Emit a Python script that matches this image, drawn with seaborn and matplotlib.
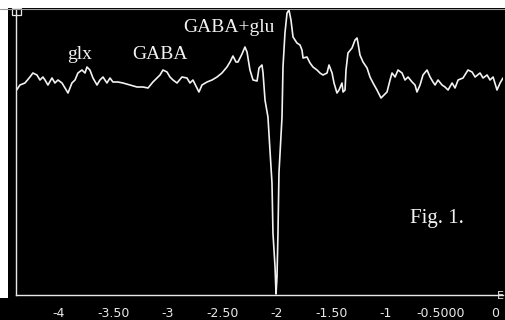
import numpy as np
import pandas as pd
import matplotlib
matplotlib.use("Agg")
import matplotlib.pyplot as plt
from matplotlib.patches import Rectangle
import seaborn as sns

# chemical shift (ppm) and signal intensity (a.u.)
ppm = [
    -4.388, -4.358, -4.312, -4.266, -4.239, -4.202, -4.174, -4.147, -4.128, -4.101,
    -4.064, -4.037, -4.009, -3.972, -3.945, -3.917, -3.881, -3.853, -3.826, -3.789,
    -3.761, -3.743, -3.716, -3.688, -3.651, -3.624, -3.596, -3.560, -3.532, -3.505,
    -3.459, -3.413, -3.349, -3.284, -3.229, -3.183, -3.138, -3.101, -3.073, -3.046,
    -3.009, -2.982, -2.954, -2.917, -2.872, -2.826, -2.798, -2.771, -2.734, -2.716,
    -2.688, -2.642, -2.596, -2.550, -2.505, -2.459, -2.431, -2.404, -2.376, -2.358,
    -2.321, -2.294, -2.275, -2.266, -2.248, -2.220, -2.183, -2.165, -2.138, -2.128,
    -2.110, -2.083, -2.064, -2.046, -2.037, -2.018, -2.009, -2.000, -1.991, -1.982,
    -1.954, -1.945, -1.927, -1.908, -1.890, -1.872, -1.853, -1.817, -1.789, -1.771,
    -1.761, -1.725, -1.697, -1.670, -1.633, -1.606, -1.578, -1.541, -1.523, -1.495,
    -1.477, -1.450, -1.431, -1.404, -1.394, -1.376, -1.367, -1.349, -1.312, -1.284,
    -1.266, -1.257, -1.239, -1.211, -1.174, -1.147, -1.119, -1.083, -1.046, -1.018,
    -0.991, -0.963, -0.945, -0.917, -0.890, -0.853, -0.826, -0.798, -0.761, -0.734,
    -0.716, -0.688, -0.661, -0.624, -0.596, -0.569, -0.550, -0.523, -0.486, -0.459,
    -0.431, -0.394, -0.367, -0.339, -0.294, -0.248, -0.211, -0.183, -0.138, -0.110,
    -0.073, -0.046, -0.018, 0.018, 0.046, 0.073,
]
intensity = [
    205, 210, 212, 218, 222, 220, 215, 218, 215, 210,
    217, 212, 215, 212, 207, 202, 212, 215, 222, 225,
    222, 228, 225, 217, 210, 215, 218, 212, 217, 213,
    213, 212, 210, 208, 208, 207, 213, 217, 220, 225,
    223, 218, 215, 212, 218, 217, 212, 215, 207, 203,
    210, 213, 215, 218, 222, 228, 233, 239, 233, 233,
    241, 248, 243, 237, 225, 215, 214, 227, 230, 222,
    195, 178, 145, 112, 62, 28, 1, 18, 62, 122,
    178, 228, 262, 282, 285, 275, 258, 252, 250, 245,
    237, 238, 232, 228, 225, 222, 220, 222, 230, 222,
    212, 202, 205, 212, 203, 205, 225, 242, 247, 255,
    257, 252, 240, 233, 227, 218, 212, 205, 197, 200,
    203, 215, 222, 218, 225, 222, 215, 218, 213, 210,
    203, 210, 220, 225, 218, 213, 210, 215, 210, 208,
    205, 212, 207, 215, 217, 225, 223, 218, 222, 217,
    220, 215, 218, 205, 212, 217,
]
assert len(ppm) == len(intensity)

tick_pos = [-4, -3.5, -3, -2.5, -2, -1.5, -1, -0.5, 0]
tick_labels = ["-4", "-3.50", "-3", "-2.50", "-2", "-1.50", "-1", "-0.5000", "0"]

# peak labels: text, ppm of left edge, baseline intensity
peak_labels = [("glx", -3.927, 236), ("GABA", -3.33, 236), ("GABA+glu", -2.862, 263)]

df = pd.DataFrame({"ppm": ppm, "intensity": intensity})

sns.set_style("dark")
plt.rcParams["font.family"] = ["DejaVu Sans"]

W, H = 505, 320
fig = plt.figure(figsize=(W / 100, H / 100), dpi=100, facecolor="black")

# white margins of the original screenshot
fig.patches.append(Rectangle((0, 1 - 8 / H), 1, 8 / H, transform=fig.transFigure,
                             facecolor="white", edgecolor="none", zorder=0))
fig.patches.append(Rectangle((0, 22 / H), 8 / W, 1 - 22 / H, transform=fig.transFigure,
                             facecolor="white", edgecolor="none", zorder=0))
fig.lines.append(plt.Line2D([0, 1], [1 - 8.5 / H, 1 - 8.5 / H], transform=fig.transFigure,
                            color="#9a9a9a", lw=0.8))

ax = fig.add_axes([16 / W, 25 / H, 487 / W, 287 / H])
ax.set_facecolor("black")

sns.lineplot(data=df, x="ppm", y="intensity", ax=ax, color="#f2f2f2", linewidth=1.2)

ax.set_xlim(-4.394, 0.073)
ax.set_ylim(0, 287)
ax.set_xlabel("")
ax.set_ylabel("")
ax.grid(False)

for side in ["top", "right"]:
    ax.spines[side].set_visible(False)
for side in ["left", "bottom"]:
    ax.spines[side].set_visible(True)
    ax.spines[side].set_color("#e8e8e8")
    ax.spines[side].set_linewidth(1.0)

ax.set_xticks(tick_pos)
ax.set_xticklabels(tick_labels)
ax.set_yticks(np.arange(287, 0, -35))
ax.set_yticklabels([])
ax.tick_params(axis="x", direction="out", length=6, width=1.0, color="#e8e8e8",
               labelcolor="#e8e8e8", labelsize=9, pad=2.5)
ax.tick_params(axis="y", direction="out", length=6, width=1.0, color="#e8e8e8")

for text, x, y in peak_labels:
    ax.text(x, y, text, color="#f2f2f2", fontsize=14, family="Liberation Serif",
            ha="left", va="baseline")
ax.text(-0.78, 72, "Fig. 1.", color="#f2f2f2", fontsize=15, family="Liberation Serif",
        ha="left", va="baseline")

# small box at the top of the y axis and end mark on the x axis
fig.patches.append(Rectangle((11.5 / W, 1 - 15 / H), 9 / W, 7 / H, transform=fig.transFigure,
                             facecolor="none", edgecolor="#e8e8e8", lw=0.9))
fig.text(497 / W, 1 - 299 / H, "E", color="#e8e8e8", fontsize=8)

fig.savefig("out.png", dpi=100, facecolor=fig.get_facecolor())
